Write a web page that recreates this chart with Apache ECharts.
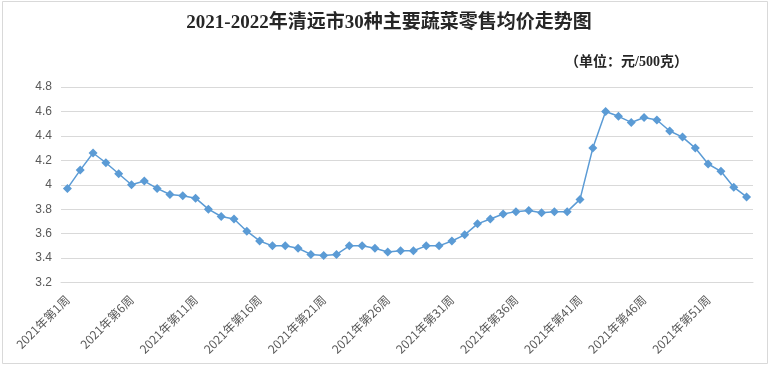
<!DOCTYPE html>
<html>
<head>
<meta charset="utf-8">
<script src="https://cdn.jsdelivr.net/npm/echarts@6/dist/echarts.min.js"></script>
<style>
html,body{margin:0;padding:0;background:#fff;}
#chart{width:770px;height:366px;}
</style>
</head>
<body>
<div id="chart"></div>
<script>
var titleText = '2021-2022年清远市30种主要蔬菜零售均价走势图';
var unitText = '（单位：元/500克）';

var weeks2021 = [];
for (var i = 1; i <= 52; i++) weeks2021.push('2021年第' + i + '周');
var weeks2022 = ['2022年第1周', '2022年第2周'];
var categories = weeks2021.concat(weeks2022);

var prices = [
  3.97, 4.12, 4.26, 4.18, 4.09, 4.00, 4.03, 3.97, 3.92, 3.91,
  3.89, 3.80, 3.74, 3.72, 3.62, 3.54, 3.50, 3.50, 3.48, 3.43,
  3.42, 3.43, 3.50, 3.50, 3.48, 3.45, 3.46, 3.46, 3.50, 3.50,
  3.54, 3.59, 3.68, 3.72, 3.76, 3.78, 3.79, 3.77, 3.78, 3.78,
  3.88, 4.30, 4.60, 4.56, 4.51, 4.55, 4.53, 4.44, 4.39, 4.30,
  4.17, 4.11, 3.98, 3.90
];

var yTicks = { min: 3.2, max: 4.8, interval: 0.2 };

var chart = echarts.init(document.getElementById('chart'), null, {renderer: 'canvas'});
chart.setOption({
  backgroundColor: '#ffffff',
  animation: false,
  title: [{
    text: titleText,
    left: 384, top: 9, textAlign: 'center',
    textStyle: { fontFamily: '"Liberation Serif","Noto Sans CJK SC",serif', fontWeight: 'bold', fontSize: 19, color: '#262626' }
  }, {
    text: unitText,
    left: 560, top: 50,
    textStyle: { fontFamily: '"Liberation Serif","Noto Sans CJK SC",serif', fontWeight: 'bold', fontSize: 14, color: '#262626' }
  }],
  graphic: [{
    type: 'rect', shape: { x: 2.5, y: 1.5, width: 765, height: 362 },
    style: { fill: 'none', stroke: '#d9d9d9', lineWidth: 1 }, silent: true, z: -1
  }],
  grid: { left: 61, right: 17, top: 87, bottom: 83.5, containLabel: false },
  xAxis: {
    type: 'category',
    data: categories,
    boundaryGap: true,
    axisLine: { show: true, lineStyle: { color: '#d9d9d9' } },
    axisTick: { show: false },
    axisLabel: {
      interval: 4, rotate: 45, margin: 15,
      fontFamily: '"Noto Sans CJK SC",sans-serif', fontSize: 12, color: '#595959'
    }
  },
  yAxis: {
    type: 'value',
    min: yTicks.min, max: yTicks.max, interval: yTicks.interval,
    axisLine: { show: false },
    axisTick: { show: false },
    axisLabel: { margin: 9, fontFamily: '"Liberation Sans",Arial,sans-serif', fontSize: 12, color: '#595959' },
    splitLine: { lineStyle: { color: '#d9d9d9', width: 1 } }
  },
  series: [{
    type: 'line',
    data: prices,
    symbol: 'diamond',
    symbolSize: 9,
    showAllSymbol: true,
    lineStyle: { color: '#5b9bd5', width: 1.5 },
    itemStyle: { color: '#5b9bd5' }
  }]
});
</script>
</body>
</html>
